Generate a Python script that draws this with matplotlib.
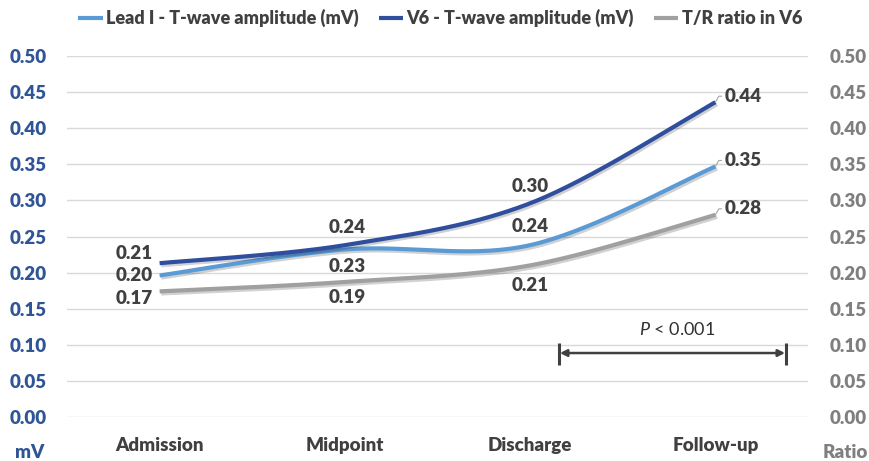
import matplotlib
matplotlib.use("Agg")
import matplotlib.pyplot as plt
import matplotlib.patheffects as pe
from matplotlib import font_manager
import numpy as np

# ---- data ----
categories = ["Admission", "Midpoint", "Discharge", "Follow-up"]
lead1 = [0.196, 0.232, 0.238, 0.347]
v6 = [0.213, 0.238, 0.296, 0.436]
tr_ratio = [0.174, 0.187, 0.210, 0.280]
lead1_labels = ["0.20", "0.23", "0.24", "0.35"]
v6_labels = ["0.21", "0.24", "0.30", "0.44"]
tr_labels = ["0.17", "0.19", "0.21", "0.28"]
series_names = ["Lead I - T-wave amplitude (mV)", "V6 - T-wave amplitude (mV)", "T/R ratio in V6"]
yticks = [0.00, 0.05, 0.10, 0.15, 0.20, 0.25, 0.30, 0.35, 0.40, 0.45, 0.50]
p_text = "P < 0.001"

names = {f.name for f in font_manager.fontManager.ttflist}
FONT = "Lato" if "Lato" in names else "DejaVu Sans"
plt.rcParams["font.family"] = [FONT, "DejaVu Sans"]
plt.rcParams["mathtext.fontset"] = "custom"
plt.rcParams["mathtext.it"] = FONT + ":italic"
plt.rcParams["mathtext.rm"] = FONT

C_LEAD = "#5B9BD5"
C_V6 = "#2F4E9E"
C_TR = "#A0A0A0"
C_TXT = "#404040"
C_BLUE = "#2F5597"
C_GRAY = "#7F7F7F"
FS = 13.5
W = "heavy"


def smooth(xs, ys, n=60):
    P = np.column_stack([xs, ys]).astype(float)
    out = []
    m = len(P)
    for i in range(m - 1):
        p0 = P[i]
        p3 = P[i + 1]
        pm = P[i - 1] if i > 0 else P[i]
        pp = P[i + 2] if i + 2 < m else P[i + 1]
        c1 = p0 + (p3 - pm) / 6.0
        c2 = p3 - (pp - p0) / 6.0
        t = np.linspace(0, 1, n)[:, None]
        seg = ((1 - t) ** 3) * p0 + 3 * ((1 - t) ** 2) * t * c1 + 3 * (1 - t) * t ** 2 * c2 + t ** 3 * p3
        if i > 0:
            seg = seg[1:]
        out.append(seg)
    arr = np.vstack(out)
    return arr[:, 0], arr[:, 1]


fig = plt.figure(figsize=(8.7, 4.61), dpi=100)
ax = fig.add_axes([67 / 870, 1 - 417 / 461, (808 - 67) / 870, (417 - 56) / 461])
ax2 = ax.twinx()

x = np.arange(len(categories))
ax.set_xlim(-0.5, 3.5)
ax.set_ylim(0, 0.5)
ax2.set_ylim(0, 0.5)

for a in (ax, ax2):
    for s in a.spines.values():
        s.set_visible(False)

px = 0.72  # points per pixel

ax.set_yticks(yticks)
ax.set_yticklabels([f"{v:.2f}" for v in yticks])
ax2.set_yticks(yticks)
ax2.set_yticklabels([f"{v:.2f}" for v in yticks])
ax.grid(axis="y", color="#D9D9D9", lw=1.0)
ax.set_axisbelow(True)
ax.tick_params(axis="y", length=0, pad=20 * px, labelsize=FS, labelcolor=C_BLUE)
ax2.tick_params(axis="y", length=0, pad=22 * px, labelsize=FS, labelcolor=C_GRAY)
for lbl in ax.get_yticklabels() + ax2.get_yticklabels():
    lbl.set_fontweight(W)
ax.set_xticks(x)
ax.set_xticklabels(categories, fontsize=FS, fontweight=W, color=C_TXT)
ax.tick_params(axis="x", length=0, pad=20 * px)

shadow = [pe.SimpleLineShadow(offset=(1.2, -1.5), shadow_color="k", alpha=0.18), pe.Normal()]
handles = []
for ys, col, name in [(lead1, C_LEAD, series_names[0]), (v6, C_V6, series_names[1]), (tr_ratio, C_TR, series_names[2])]:
    sx, sy = smooth(x, ys)
    ln, = ax2.plot(sx, sy, color=col, lw=3.0, solid_capstyle="butt", path_effects=shadow, label=name, zorder=3)
    handles.append(ln)


def lab(xi, yi, txt, dx, dy, ha="center"):
    ax2.annotate(txt, (xi, yi), xytext=(dx * px, dy * px), textcoords="offset points",
                 ha=ha, va="center", fontsize=FS, fontweight=W, color=C_TXT, zorder=5)


# Admission
lab(0, v6[0], v6_labels[0], -7, 10, ha="right")
lab(0, lead1[0], lead1_labels[0], -7, 0, ha="right")
lab(0, tr_ratio[0], tr_labels[0], -7, -7, ha="right")
# Midpoint
lab(1, v6[1], v6_labels[1], 2, 18)
lab(1, lead1[1], lead1_labels[1], 2, -17)
lab(1, tr_ratio[1], tr_labels[1], 2, -16)
# Discharge
lab(2, v6[2], v6_labels[2], 0, 17)
lab(2, lead1[2], lead1_labels[2], 0, 19)
lab(2, tr_ratio[2], tr_labels[2], 0, -20)
# Follow-up with leader lines
for ys, t in [(v6, v6_labels), (lead1, lead1_labels), (tr_ratio, tr_labels)]:
    ax2.annotate(t[3], (3, ys[3]), xytext=(9 * px, 6 * px), textcoords="offset points",
                 ha="left", va="center", fontsize=FS, fontweight=W, color=C_TXT, zorder=5,
                 arrowprops=dict(arrowstyle="-", color="#A6A6A6", lw=0.8, shrinkA=0, shrinkB=0,
                                 relpos=(0, 0.5), connectionstyle="angle,angleA=0,angleB=60,rad=0"))

# P-value bracket
xa, xb, yl = 2.156, 3.381, 0.0886
ax2.annotate("", xy=(xa + 0.005, yl), xytext=(xb - 0.005, yl),
             arrowprops=dict(arrowstyle="<|-|>", color=C_TXT, lw=1.8, mutation_scale=10,
                             shrinkA=0, shrinkB=0))
ax2.plot([xa, xa], [0.072, 0.1025], color=C_TXT, lw=2.2, solid_capstyle="butt")
ax2.plot([xb, xb], [0.072, 0.1025], color=C_TXT, lw=2.2, solid_capstyle="butt")
ax2.text(2.793, 0.1205, r"$\it{P}$" + " < 0.001", ha="center", va="center", fontsize=13, color="#303030")

# Axis unit labels
fig.text(30 / 870, 1 - 452 / 461, "mV", ha="center", va="center", fontsize=FS, fontweight=W, color=C_BLUE)
fig.text(845 / 870, 1 - 452 / 461, "Ratio", ha="center", va="center", fontsize=FS, fontweight=W, color=C_GRAY)

leg = fig.legend(handles=handles, loc="center", bbox_to_anchor=(0.506, 0.961), ncol=3, frameon=False,
                 fontsize=13, handlelength=1.35, handletextpad=0.2, columnspacing=1.1)
for t in leg.get_texts():
    t.set_fontweight(W)
    t.set_color(C_TXT)
for h in leg.legend_handles:
    h.set_path_effects([])
    h.set_linewidth(3)

fig.savefig("out.png", dpi=100)
